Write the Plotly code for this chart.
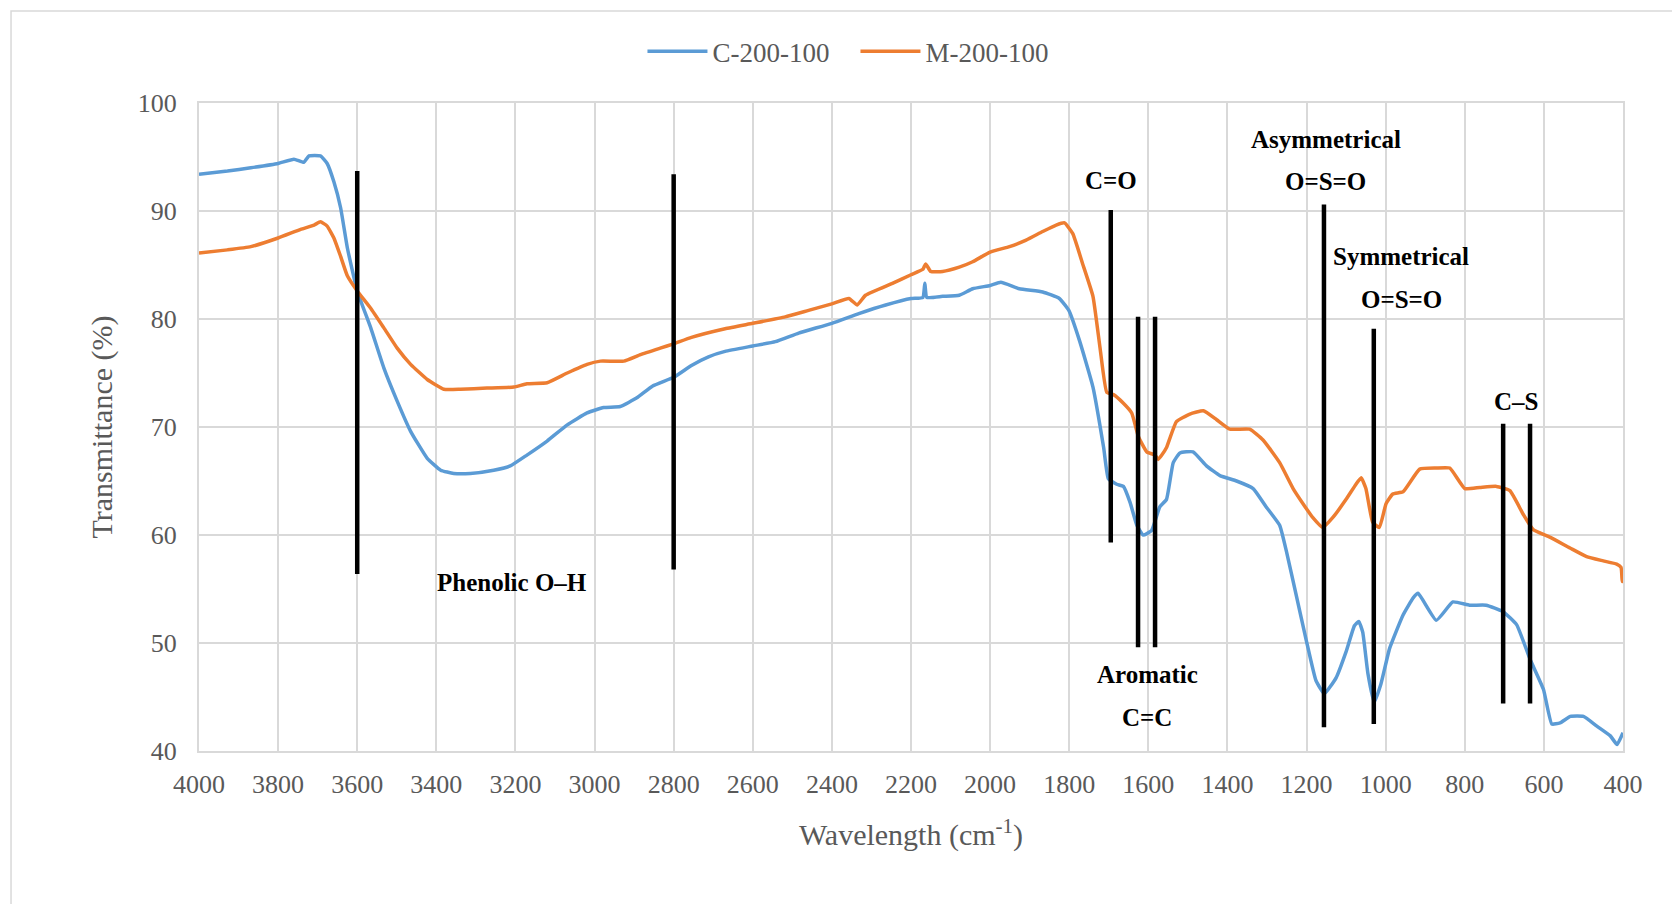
import plotly.graph_objects as go

# FTIR spectra: wavenumber (cm-1) and transmittance (%)
wn_c = [4000, 3928, 3869, 3800, 3760, 3735, 3722, 3693, 3676, 3659, 3642, 3625, 3600,
        3566, 3533, 3499, 3465, 3423, 3389, 3356, 3314, 3255, 3213, 3171, 3120, 3069,
        3019, 2977, 2935, 2893, 2853, 2800, 2755, 2712, 2670, 2600, 2543, 2484, 2400,
        2332, 2264, 2200, 2170, 2165, 2160, 2120, 2078, 2044, 2000, 1973, 1926, 1867,
        1825, 1801, 1774, 1740, 1713, 1701, 1680, 1663, 1646, 1629, 1613, 1592, 1571,
        1554, 1537, 1520, 1487, 1453, 1419, 1377, 1335, 1302, 1268, 1251, 1226, 1201,
        1176, 1155, 1125, 1100, 1079, 1068, 1058, 1045, 1029, 1012, 990, 956, 930, 918,
        872, 830, 788, 746, 703, 669, 635, 601, 580, 559, 533, 500, 466, 432, 415, 400]
t_c = [93.4, 93.7, 94.0, 94.4, 94.8, 94.5, 95.1, 95.1, 94.4, 92.7, 90.3, 86.6, 82.6,
       79.2, 75.5, 72.4, 69.6, 67.1, 66.0, 65.7, 65.7, 66.0, 66.4, 67.4, 68.7, 70.2,
       71.3, 71.8, 71.9, 72.7, 73.8, 74.6, 75.7, 76.5, 77.0, 77.5, 77.9, 78.7, 79.6,
       80.5, 81.3, 81.9, 82.0, 83.3, 82.0, 82.1, 82.2, 82.8, 83.1, 83.4, 82.8, 82.5,
       81.9, 80.8, 78.0, 73.7, 68.1, 65.2, 64.7, 64.5, 63.0, 60.9, 60.0, 60.4, 62.6,
       63.3, 66.7, 67.6, 67.7, 66.4, 65.5, 65.0, 64.3, 62.6, 60.9, 58.5, 54.4, 50.3,
       46.5, 45.3, 46.8, 49.2, 51.6, 52.0, 51.0, 47.2, 44.5, 46.2, 49.5, 52.6, 54.2, 54.6,
       52.1, 53.8, 53.5, 53.5, 52.9, 51.7, 48.5, 45.7, 42.5, 42.6, 43.2, 43.2, 42.3,
       41.4, 40.6, 41.7]

wn_m = [4000, 3928, 3869, 3800, 3743, 3709, 3693, 3676, 3659, 3642, 3625, 3600, 3566,
        3533, 3499, 3465, 3423, 3381, 3339, 3272, 3204, 3171, 3120, 3069, 3019, 2985,
        2926, 2884, 2834, 2800, 2755, 2670, 2600, 2518, 2459, 2400, 2357, 2336, 2315,
        2247, 2200, 2170, 2163, 2150, 2120, 2078, 2044, 2000, 1951, 1909, 1867, 1833,
        1812, 1791, 1766, 1740, 1722, 1705, 1688, 1663, 1642, 1625, 1604, 1583, 1575,
        1566, 1554, 1529, 1495, 1461, 1428, 1394, 1344, 1310, 1268, 1234, 1209, 1184,
        1159, 1134, 1100, 1075, 1062, 1050, 1033, 1016, 999, 982, 956, 914, 872, 838,
        800, 762, 720, 686, 652, 627, 585, 534, 492, 450, 416, 405, 402, 400]
t_m = [86.1, 86.4, 86.7, 87.5, 88.3, 88.7, 89.0, 88.6, 87.5, 85.8, 84.0, 82.6, 81.0,
       79.2, 77.3, 75.8, 74.4, 73.5, 73.5, 73.6, 73.7, 74.0, 74.1, 75.0, 75.8, 76.1,
       76.1, 76.7, 77.3, 77.7, 78.3, 79.1, 79.6, 80.2, 80.8, 81.4, 81.9, 81.3, 82.2,
       83.3, 84.1, 84.6, 85.1, 84.4, 84.4, 84.8, 85.3, 86.2, 86.7, 87.3, 88.1, 88.7,
       88.9, 87.9, 85.1, 82.1, 77.3, 73.2, 73.0, 72.2, 71.3, 69.1, 67.7, 67.4, 67.0,
       67.4, 68.1, 70.5, 71.2, 71.5, 70.7, 69.8, 69.8, 68.8, 66.7, 64.3, 62.9, 61.6,
       60.7, 61.6, 63.3, 64.7, 65.3, 64.3, 61.2, 60.7, 62.9, 63.8, 64.0, 66.1, 66.2,
       66.2, 64.3, 64.4, 64.5, 64.1, 61.9, 60.5, 59.8, 58.8, 58.0, 57.6, 57.3, 57.0,
       55.7, 56.6]

# Band markers: position (cm-1), bottom and top of each marker line (%)
band_x = [3600, 2800, 1695, 1626, 1583, 1156, 1030, 703, 635]
band_lo = [56.4, 56.8, 59.3, 49.6, 49.6, 42.2, 42.5, 44.4, 44.4]
band_hi = [93.7, 93.4, 90.1, 80.2, 80.2, 90.6, 79.1, 70.3, 70.3]

# Band labels: text, position (cm-1), height (%)
label_text = ["Phenolic O–H", "C=O", "Asymmetrical", "O=S=O", "Symmetrical", "O=S=O",
              "C–S", "Aromatic", "C=C"]
label_x = [3209, 1694, 1151, 1151, 961, 961, 671, 1603, 1603]
label_y = [55.6, 92.8, 96.6, 92.7, 85.8, 81.8, 72.4, 47.1, 43.1]

x_ticks = list(range(4000, 399, -200))
y_ticks = [40, 50, 60, 70, 80, 90, 100]

BLUE = "#5B9BD5"
ORANGE = "#ED7D31"
GRID = "#D9D9D9"
TXT = "#595959"
SERIF = "Liberation Serif, Times New Roman, serif"

fig = go.Figure()
fig.add_trace(go.Scatter(x=wn_c, y=t_c, mode="lines", name="C-200-100",
                         line=dict(color=BLUE, width=3.5, shape="spline", smoothing=0.4)))
fig.add_trace(go.Scatter(x=wn_m, y=t_m, mode="lines", name="M-200-100",
                         line=dict(color=ORANGE, width=3.5, shape="spline", smoothing=0.4)))

for bx, lo, hi in zip(band_x, band_lo, band_hi):
    fig.add_shape(type="line", xref="x", yref="y", x0=bx, x1=bx, y0=lo, y1=hi,
                  line=dict(color="black", width=4.5))

for txt, lx, ly in zip(label_text, label_x, label_y):
    fig.add_annotation(x=lx, y=ly, xref="x", yref="y", text=f"<b>{txt}</b>",
                       showarrow=False, font=dict(family=SERIF, size=25, color="black"))

# outer chart frame
fig.add_shape(type="rect", xref="paper", yref="paper", x0=-0.132, x1=1.2,
              y0=-0.4, y1=1.142, line=dict(color=GRID, width=1.5), layer="below")

fig.update_layout(
    width=1672, height=904,
    margin=dict(l=199, r=49, t=103, b=153, autoexpand=False),
    paper_bgcolor="white", plot_bgcolor="white",
    font=dict(family=SERIF, color=TXT, size=26),
    showlegend=True,
    legend=dict(orientation="h", x=0.461, y=1.079, xanchor="center", yanchor="middle",
                font=dict(family=SERIF, size=27, color=TXT), itemwidth=60,
                entrywidth=138, entrywidthmode="pixels",
                bgcolor="rgba(0,0,0,0)"),
)
fig.update_xaxes(range=[4000, 400], tickvals=x_ticks, showgrid=True, gridcolor=GRID,
                 gridwidth=2, showline=True, linecolor=GRID, linewidth=2, mirror=True,
                 zeroline=False, ticks="", ticklabelstandoff=9,
                 tickfont=dict(family=SERIF, size=26, color=TXT),
                 title=dict(text="Wavelength (cm<sup>-1</sup>)", standoff=26,
                            font=dict(family=SERIF, size=30, color=TXT)))
fig.update_yaxes(range=[40, 100], tickvals=y_ticks, showgrid=True, gridcolor=GRID,
                 gridwidth=2, showline=True, linecolor=GRID, linewidth=2, mirror=True,
                 zeroline=False, ticks="", ticklabelstandoff=15,
                 tickfont=dict(family=SERIF, size=26, color=TXT),
                 title=dict(text="Transmittance (%)", standoff=16,
                            font=dict(family=SERIF, size=30, color=TXT)))

fig.write_html("out.html")
